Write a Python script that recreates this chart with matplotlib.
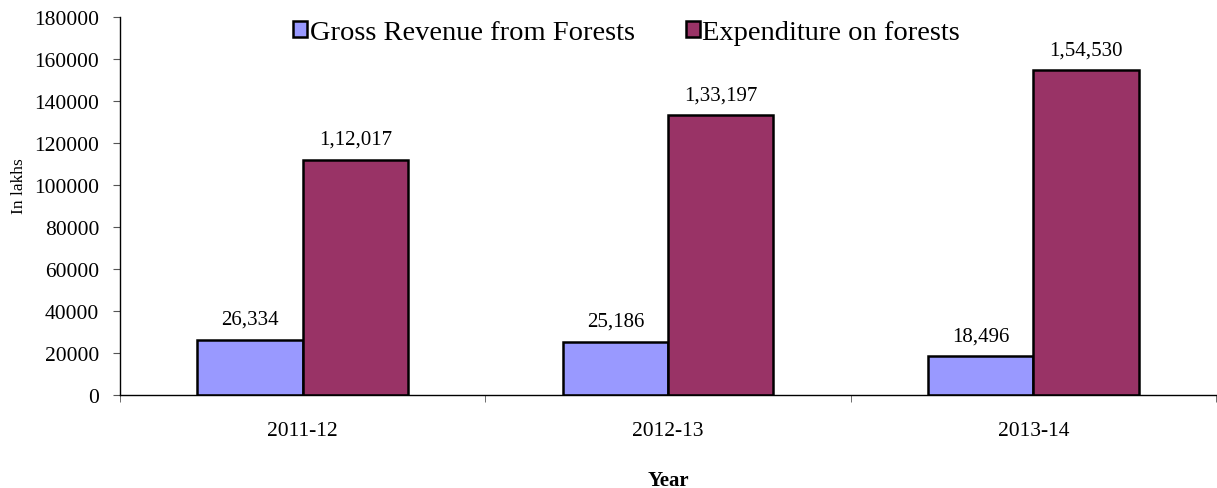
import matplotlib
matplotlib.use("Agg")
import matplotlib.pyplot as plt
import numpy as np
from matplotlib.patches import Patch

years = ["2011-12", "2012-13", "2013-14"]
revenue = [26334, 25186, 18496]
expenditure = [112017, 133197, 154530]
revenue_labels = ["26,334", "25,186", "18,496"]
expenditure_labels = ["1,12,017", "1,33,197", "1,54,530"]
series_names = ["Gross Revenue from Forests", "Expenditure on forests"]

plt.rcParams['font.family'] = ['Liberation Serif', 'DejaVu Serif']

W, H = 1217, 489
fig = plt.figure(figsize=(W/100, H/100), dpi=100)
ax = fig.add_axes([120/W, 1 - 396/H, (1216-120)/W, (396-18)/H])

x = np.arange(len(years))
w = 0.288
c1, c2 = "#9999FF", "#993366"
b1 = ax.bar(x - w/2, revenue, w, color=c1, edgecolor="black", linewidth=1.8)
b2 = ax.bar(x + w/2, expenditure, w, color=c2, edgecolor="black", linewidth=1.8)

for bars, labels in ((b1, revenue_labels), (b2, expenditure_labels)):
    for rect, lab in zip(bars, labels):
        ax.annotate(lab, (rect.get_x() + rect.get_width()/2, rect.get_height()),
                    xytext=(0, 8), textcoords="offset points", ha="center", va="bottom",
                    fontsize=15)

ax.set_xlim(-0.5, len(years) - 0.5)
ax.set_ylim(0, 180000)
ax.set_yticks(np.arange(0, 180001, 20000))
ax.set_yticklabels([str(v) for v in range(0, 180001, 20000)], fontsize=15.5)
ax.set_xticks(x)
ax.set_xticklabels(years, fontsize=15.5)
ax.tick_params(axis="x", length=0, pad=19)
ax.set_xticks(np.arange(-0.5, len(years) + 0.5, 1), minor=True)
ax.tick_params(axis="x", which="minor", length=5, direction="out", color="#555555")
ax.tick_params(axis="y", length=5, direction="out", color="#555555", pad=10)

for s in ["top", "right"]:
    ax.spines[s].set_visible(False)
ax.spines["left"].set_linewidth(1.0)
ax.spines["bottom"].set_linewidth(1.0)

ax.set_ylabel("In lakhs", fontsize=12.5)
ax.yaxis.set_label_coords(-0.085, 0.556)
fig.text((668)/W, 1 - 481/H, "Year", fontsize=15, fontweight="bold", ha="center", va="center")

handles = [Patch(facecolor=c1, edgecolor="black", linewidth=1.8),
           Patch(facecolor=c2, edgecolor="black", linewidth=1.8)]
fig.legend(handles, series_names, loc="center", bbox_to_anchor=(626.5/W, 1 - 33.5/H),
           ncol=2, frameon=False, fontsize=20.5, handlelength=0.5, handleheight=0.5,
           handletextpad=0.08, columnspacing=1.8, borderpad=0, borderaxespad=0)

fig.savefig("out.png", dpi=100)
